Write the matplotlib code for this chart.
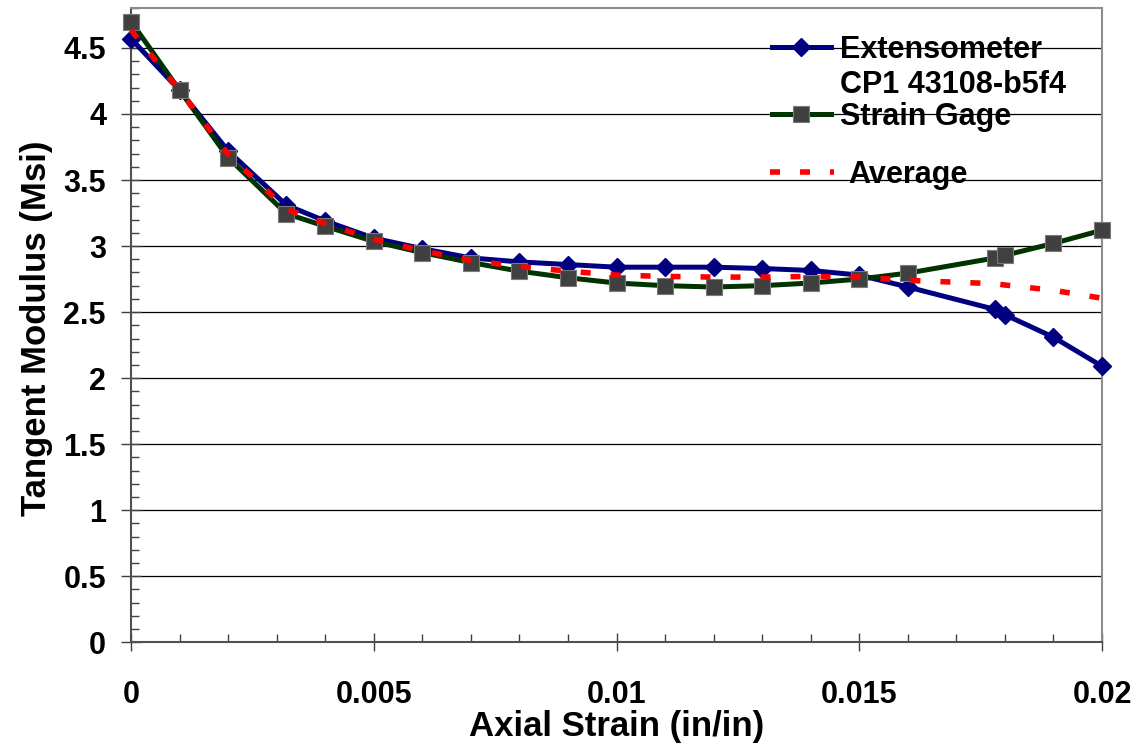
import matplotlib
matplotlib.use("Agg")
import matplotlib.pyplot as plt
from matplotlib.ticker import MultipleLocator, FixedLocator, FixedFormatter

# ---- data ----
strain = [0.0, 0.001, 0.002, 0.0032, 0.004, 0.005, 0.006, 0.007, 0.008, 0.009,
          0.010, 0.011, 0.012, 0.013, 0.014, 0.015, 0.016, 0.0178, 0.018, 0.019, 0.020]
extensometer = [4.57, 4.18, 3.72, 3.31, 3.19, 3.06, 2.98, 2.91, 2.88, 2.86,
                2.84, 2.84, 2.84, 2.83, 2.815, 2.78, 2.69, 2.52, 2.48, 2.31, 2.09]
strain_gage = [4.70, 4.18, 3.67, 3.245, 3.15, 3.035, 2.95, 2.875, 2.81, 2.76,
               2.72, 2.70, 2.69, 2.70, 2.72, 2.75, 2.795, 2.91, 2.93, 3.02, 3.12]
average = [4.635, 4.18, 3.695, 3.28, 3.17, 3.05, 2.965, 2.89, 2.845, 2.81,
           2.78, 2.77, 2.765, 2.765, 2.77, 2.765, 2.74, 2.715, 2.705, 2.665, 2.605]

x_ticks = [0, 0.005, 0.01, 0.015, 0.02]
x_tick_labels = ["0", "0.005", "0.01", "0.015", "0.02"]
y_ticks = [0, 0.5, 1, 1.5, 2, 2.5, 3, 3.5, 4, 4.5]
y_tick_labels = ["0", "0.5", "1", "1.5", "2", "2.5", "3", "3.5", "4", "4.5"]

FONT = "Liberation Sans"
plt.rcParams["font.family"] = [FONT, "DejaVu Sans"]
plt.rcParams["font.weight"] = "bold"

W, H = 1140, 750
fig = plt.figure(figsize=(W / 100, H / 100), dpi=100)
x0, x1 = 131, 1102
ytop, ybot = 8.3, 642.3
ax = fig.add_axes([x0 / W, 1 - ybot / H, (x1 - x0) / W, (ybot - ytop) / H])

ax.set_xlim(0, 0.02)
ax.set_ylim(0, 4.8)

# gridlines
for yv in y_ticks[1:]:
    ax.axhline(yv, color="black", lw=0.9, zorder=1)

blue = "#000080"
green = "#003300"
l_ext, = ax.plot(strain, extensometer, color=blue, lw=3.6, marker="D", ms=9.5,
                 mfc=blue, mec=blue, clip_on=False, zorder=3, solid_joinstyle="round")
l_sg, = ax.plot(strain, strain_gage, color=green, lw=3.6, marker="s", ms=11.5,
                mfc="#404040", mec="#7a7a7a", mew=0.8, clip_on=False, zorder=4,
                solid_joinstyle="round")
l_avg, = ax.plot(strain, average, color="#ff0000", lw=4.0, dashes=(1.8, 3.6),
                 clip_on=False, zorder=5, dash_capstyle="butt")

# spines
for s in ["top", "right"]:
    ax.spines[s].set_color("#8c8c8c")
    ax.spines[s].set_linewidth(1.5)
for s in ["left", "bottom"]:
    ax.spines[s].set_color("#505050")
    ax.spines[s].set_linewidth(1.5)

ax.xaxis.set_major_locator(FixedLocator(x_ticks))
ax.xaxis.set_major_formatter(FixedFormatter(x_tick_labels))
ax.xaxis.set_minor_locator(MultipleLocator(0.001))
ax.yaxis.set_major_locator(FixedLocator(y_ticks))
ax.yaxis.set_major_formatter(FixedFormatter(y_tick_labels))
ax.yaxis.set_minor_locator(MultipleLocator(0.1))

ax.tick_params(axis="x", which="major", direction="inout", length=13, width=1,
               color="#404040", pad=21, labelsize=22)
ax.tick_params(axis="y", which="major", direction="inout", length=14, width=1,
               color="#404040", pad=11, labelsize=22)
ax.tick_params(axis="both", which="minor", direction="in", length=6, width=1,
               color="#404040")
for lab in ax.get_xticklabels() + ax.get_yticklabels():
    lab.set_fontweight("bold")

fig.text(37 / W, 1 - 328 / H, "Tangent Modulus (Msi)", rotation=90,
         ha="center", va="center", fontsize=25, fontweight="bold")
fig.text((x0 + x1) / 2 / W, 1 - 736 / H, "Axial Strain (in/in)",
         ha="center", va="baseline", fontsize=25, fontweight="bold")

# legend (three single-entry legends + sub caption)
def add_leg(handle, label, xpix, ypix, hl, pad):
    leg = fig.legend([handle], [label], loc="center left",
                     bbox_to_anchor=(xpix / W, 1 - ypix / H),
                     bbox_transform=fig.transFigure, frameon=False,
                     borderpad=0, borderaxespad=0, handlelength=hl,
                     handletextpad=pad, prop={"family": FONT, "weight": "bold", "size": 22})
    return leg

add_leg(l_ext, "Extensometer", 772, 50, 1.93, 0.3)
add_leg(l_sg, "Strain Gage", 772, 117, 1.93, 0.3)
add_leg(l_avg, "Average", 770, 175, 2.1, 0.45)
fig.text(840 / W, 1 - 93 / H, "CP1 43108-b5f4", ha="left", va="baseline",
         fontsize=22, fontweight="bold")

fig.savefig("out.png", dpi=100)
